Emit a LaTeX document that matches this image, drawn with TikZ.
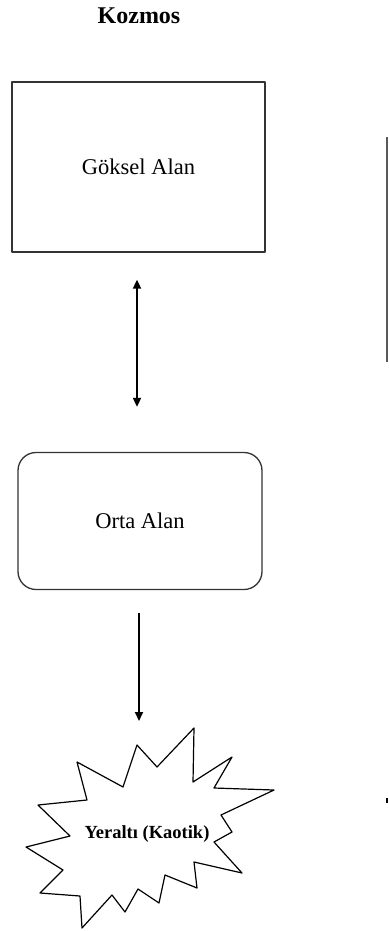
\documentclass[tikz,border=0pt]{standalone}
\usepackage{fontspec}
\setmainfont{Liberation Serif}
\usetikzlibrary{arrows.meta}
\begin{document}
\begin{tikzpicture}[x=1pt,y=-1pt,line join=round,>={Triangle[width=8pt,length=9pt]}]
    \tikzset{alan/.style={draw=black!80,line width=1.3pt,inner sep=0pt,font=\fontsize{22.5}{26}\selectfont},
             ok/.style={line width=1.8pt}}
    \useasboundingbox (0,0) rectangle (388,931);
    % baslik ve kutular
    \node[font=\bfseries\fontsize{24}{28}\selectfont] (kozmos) at (139,16) {Kozmos};
    \node[alan,minimum width=253pt,minimum height=170pt] (goksel) at (138.5,167) {Göksel Alan};
    \node[alan,rounded corners=18pt,minimum width=244pt,minimum height=137pt] (orta) at (140,521) {Orta Alan};
    % yeralti yildizi
    \draw[line width=1.2pt] (194,728) -- (193,782) -- (232,757) -- (214,788) -- (274,790) -- (221,815)
        -- (232,832) -- (214,842) -- (242,873) -- (194,862) -- (197,888) -- (165,875) -- (159,903)
        -- (138,889) -- (125,912) -- (112,895) -- (82,928) -- (80,896) -- (40,893) -- (63,870)
        -- (26,847) -- (70,836) -- (38,805) -- (87,800) -- (77,762) -- (123,787) -- (137,745)
        -- (157,767) -- cycle;
    \node[font=\bfseries\fontsize{18.5}{22}\selectfont] (yeralti) at (147,834) {Yeraltı (Kaotik)};
    % oklar
    \coordinate (ortaalt) at (139,613);
    \coordinate (kaosust) at (139,721);
    \draw[ok,<->,shorten <=27pt,shorten >=45pt] ([xshift=-1.5pt]goksel.south) -- ([xshift=-1.5pt]goksel.south |- orta.north);
    \draw[ok,->] (ortaalt) -- (kaosust);
    % sag kenar
    \draw[black!65,line width=1.2pt] (387,137) -- (387,362);
    \fill (385.5,798) rectangle (388,803);
\end{tikzpicture}
\end{document}
